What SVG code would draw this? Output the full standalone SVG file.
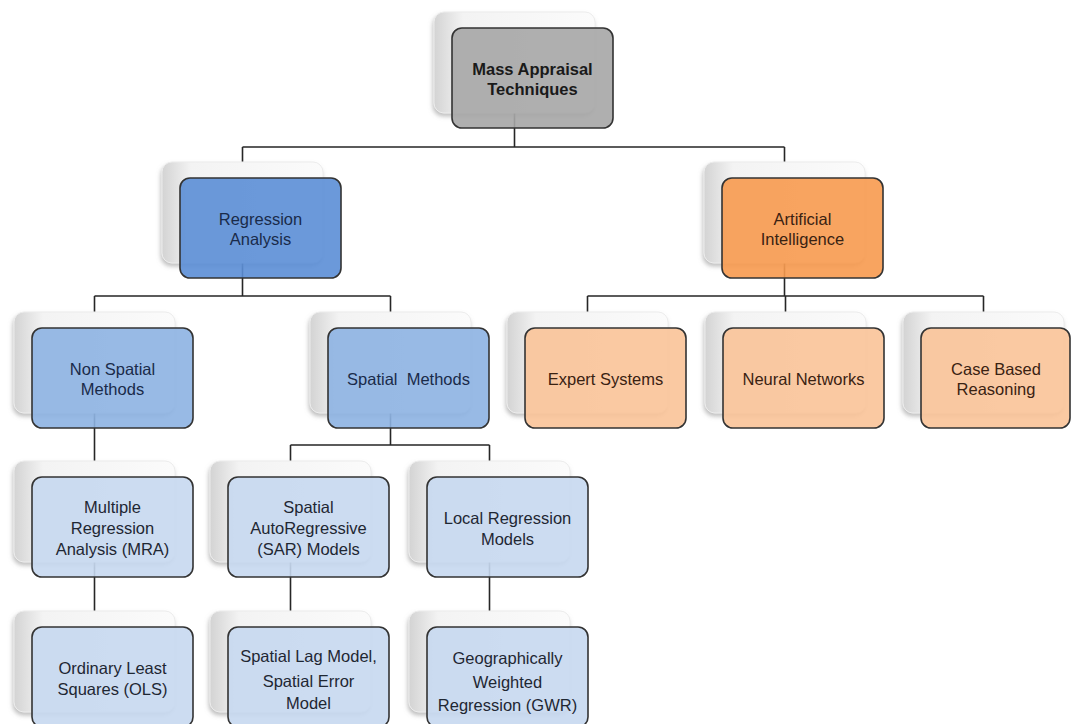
<svg xmlns="http://www.w3.org/2000/svg" width="1072" height="724" viewBox="0 0 1072 724">
<defs>
<linearGradient id="cardH" x1="0" y1="0" x2="1" y2="0">
<stop offset="0" stop-color="#d3d3d3"/>
<stop offset="0.18" stop-color="#f3f3f3"/>
<stop offset="1" stop-color="#fbfbfb"/>
</linearGradient>
<filter id="sh" x="-20%" y="-20%" width="140%" height="140%">
<feDropShadow dx="-1" dy="3" stdDeviation="2" flood-color="#808080" flood-opacity="0.5"/>
</filter>
<style>
.card{fill:url(#cardH);stroke:#ececec;stroke-width:1;filter:url(#sh)}
.box{stroke:#333333;stroke-width:1.6;fill-opacity:0.9}
.g{fill:#a6a6a6}
.b1{fill:#5b8ed6}
.o1{fill:#f79a4f}
.b2{fill:#8db3e2}
.b3{fill:#c6d8ef}
.o2{fill:#fac398}
.conn{stroke:#262626;stroke-width:1.6;fill:none}
text{font-family:"Liberation Sans",Arial,sans-serif;font-size:16.5px;text-anchor:middle}
.tb{fill:#1a2b4a}
.tg{fill:#1f2733}
.to{fill:#3a2212}
.tt{fill:#1a1a1a;font-weight:bold}
</style>
</defs>
<rect width="1072" height="724" fill="#ffffff"/>
<g id="connectors">
<path class="conn" d="M514.5 112V147M242.5 147H784.5M242.5 147V162M784.5 147V162"/>
<path class="conn" d="M242.5 262V296M94.5 296H390.5M94.5 296V312M390.5 296V312"/>
<path class="conn" d="M784.5 262V296M587.5 296H983.5M587.5 296V312M785.5 296V312M983.5 296V312"/>
<path class="conn" d="M94.5 412V461"/>
<path class="conn" d="M390.5 412V445M290.5 445H489.5M290.5 445V461M489.5 445V461"/>
<path class="conn" d="M94.5 561V611M290.5 561V611M489.5 561V611"/>
</g>
<g id="mass-appraisal">
<rect class="card" x="434" y="12" width="161" height="101" rx="10"/>
<rect class="box g" x="452" y="28" width="161" height="100" rx="10"/>
<text class="tt" x="532.5" y="75">Mass Appraisal</text>
<text class="tt" x="532.5" y="95">Techniques</text>
</g>
<g id="regression-analysis">
<rect class="card" x="162" y="162" width="161" height="101" rx="10"/>
<rect class="box b1" x="180" y="178" width="161" height="100" rx="10"/>
<text class="tb" x="260.5" y="225">Regression</text>
<text class="tb" x="260.5" y="245">Analysis</text>
</g>
<g id="artificial-intelligence">
<rect class="card" x="704" y="162" width="161" height="101" rx="10"/>
<rect class="box o1" x="722" y="178" width="161" height="100" rx="10"/>
<text class="to" x="802.5" y="225">Artificial</text>
<text class="to" x="802.5" y="245">Intelligence</text>
</g>
<g id="non-spatial">
<rect class="card" x="14" y="312" width="161" height="101" rx="10"/>
<rect class="box b2" x="32" y="328" width="161" height="100" rx="10"/>
<text class="tb" x="112.5" y="375">Non Spatial</text>
<text class="tb" x="112.5" y="395">Methods</text>
</g>
<g id="spatial-methods">
<rect class="card" x="310" y="312" width="161" height="101" rx="10"/>
<rect class="box b2" x="328" y="328" width="161" height="100" rx="10"/>
<text class="tb" x="408.5" y="385" xml:space="preserve">Spatial  Methods</text>
</g>
<g id="expert-systems">
<rect class="card" x="507" y="312" width="161" height="101" rx="10"/>
<rect class="box o2" x="525" y="328" width="161" height="100" rx="10"/>
<text class="to" x="605.5" y="385">Expert Systems</text>
</g>
<g id="neural-networks">
<rect class="card" x="705" y="312" width="161" height="101" rx="10"/>
<rect class="box o2" x="723" y="328" width="161" height="100" rx="10"/>
<text class="to" x="803.5" y="385">Neural Networks</text>
</g>
<g id="case-based">
<rect class="card" x="903" y="312" width="161" height="101" rx="10"/>
<rect class="box o2" x="921" y="328" width="149" height="100" rx="10"/>
<text class="to" x="996" y="375">Case Based</text>
<text class="to" x="996" y="395">Reasoning</text>
</g>
<g id="mra">
<rect class="card" x="14" y="461" width="161" height="101" rx="10"/>
<rect class="box b3" x="32" y="477" width="161" height="100" rx="10"/>
<text class="tg" x="112.5" y="513">Multiple</text>
<text class="tg" x="112.5" y="534">Regression</text>
<text class="tg" x="112.5" y="555">Analysis (MRA)</text>
</g>
<g id="sar">
<rect class="card" x="210" y="461" width="161" height="101" rx="10"/>
<rect class="box b3" x="228" y="477" width="161" height="100" rx="10"/>
<text class="tg" x="308.5" y="513">Spatial</text>
<text class="tg" x="308.5" y="534">AutoRegressive</text>
<text class="tg" x="308.5" y="555">(SAR) Models</text>
</g>
<g id="local-regression">
<rect class="card" x="409" y="461" width="161" height="101" rx="10"/>
<rect class="box b3" x="427" y="477" width="161" height="100" rx="10"/>
<text class="tg" x="507.5" y="524">Local Regression</text>
<text class="tg" x="507.5" y="545">Models</text>
</g>
<g id="ols">
<rect class="card" x="14" y="611" width="161" height="101" rx="10"/>
<rect class="box b3" x="32" y="627" width="161" height="100" rx="10"/>
<text class="tg" x="112.5" y="674">Ordinary Least</text>
<text class="tg" x="112.5" y="695">Squares (OLS)</text>
</g>
<g id="spatial-lag">
<rect class="card" x="210" y="611" width="161" height="101" rx="10"/>
<rect class="box b3" x="228" y="627" width="161" height="100" rx="10"/>
<text class="tg" x="308.5" y="662">Spatial Lag Model,</text>
<text class="tg" x="308.5" y="687">Spatial Error</text>
<text class="tg" x="308.5" y="709">Model</text>
</g>
<g id="gwr">
<rect class="card" x="409" y="611" width="161" height="101" rx="10"/>
<rect class="box b3" x="427" y="627" width="161" height="100" rx="10"/>
<text class="tg" x="507.5" y="664">Geographically</text>
<text class="tg" x="507.5" y="688">Weighted</text>
<text class="tg" x="507.5" y="711">Regression (GWR)</text>
</g>
</svg>
